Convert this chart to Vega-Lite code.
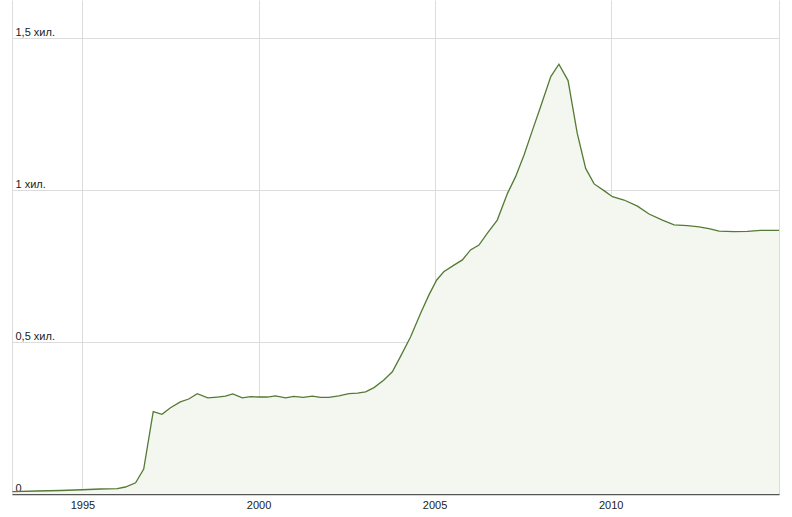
{
  "$schema": "https://vega.github.io/schema/vega-lite/v6.json",
  "width": 767,
  "height": 494,
  "autosize": {"type": "none"},
  "padding": {"left": 12, "top": 0, "right": 13, "bottom": 23},
  "background": "white",
  "config": {
    "view": {"stroke": null},
    "font": "Liberation Sans",
    "axis": {"labelFont": "Liberation Sans", "labelFontSize": 11, "labelColor": "#222222", "gridColor": "#dcdcdc", "gridWidth": 1, "title": null}
  },
  "data": {
    "values": [
      {"year": 1993.01, "value": 0.0076},
      {"year": 1993.72, "value": 0.0099},
      {"year": 1994.38, "value": 0.0115},
      {"year": 1995.0, "value": 0.014},
      {"year": 1995.51, "value": 0.0164},
      {"year": 1995.99, "value": 0.0174},
      {"year": 1996.22, "value": 0.023},
      {"year": 1996.51, "value": 0.037},
      {"year": 1996.74, "value": 0.082},
      {"year": 1997.01, "value": 0.271},
      {"year": 1997.26, "value": 0.262},
      {"year": 1997.5, "value": 0.284},
      {"year": 1997.78, "value": 0.303},
      {"year": 1998.02, "value": 0.3125},
      {"year": 1998.26, "value": 0.33},
      {"year": 1998.56, "value": 0.316},
      {"year": 1998.83, "value": 0.319},
      {"year": 1999.06, "value": 0.322},
      {"year": 1999.27, "value": 0.329},
      {"year": 1999.54, "value": 0.316},
      {"year": 1999.77, "value": 0.32},
      {"year": 2000.01, "value": 0.319},
      {"year": 2000.25, "value": 0.319},
      {"year": 2000.48, "value": 0.323},
      {"year": 2000.77, "value": 0.316},
      {"year": 2001.0, "value": 0.321},
      {"year": 2001.27, "value": 0.318},
      {"year": 2001.53, "value": 0.322},
      {"year": 2001.76, "value": 0.318},
      {"year": 2002.0, "value": 0.318},
      {"year": 2002.28, "value": 0.323},
      {"year": 2002.57, "value": 0.33},
      {"year": 2002.81, "value": 0.332},
      {"year": 2003.04, "value": 0.336},
      {"year": 2003.28, "value": 0.35},
      {"year": 2003.56, "value": 0.375},
      {"year": 2003.8, "value": 0.402},
      {"year": 2004.03, "value": 0.452},
      {"year": 2004.32, "value": 0.517},
      {"year": 2004.6, "value": 0.594},
      {"year": 2004.84, "value": 0.655},
      {"year": 2005.06, "value": 0.704},
      {"year": 2005.26, "value": 0.731},
      {"year": 2005.55, "value": 0.753},
      {"year": 2005.79, "value": 0.77},
      {"year": 2006.02, "value": 0.803},
      {"year": 2006.26, "value": 0.819},
      {"year": 2006.5, "value": 0.858},
      {"year": 2006.78, "value": 0.901},
      {"year": 2007.07, "value": 0.989},
      {"year": 2007.3, "value": 1.044},
      {"year": 2007.54, "value": 1.115},
      {"year": 2007.78, "value": 1.197},
      {"year": 2008.01, "value": 1.274},
      {"year": 2008.3, "value": 1.373},
      {"year": 2008.53, "value": 1.414},
      {"year": 2008.79, "value": 1.36},
      {"year": 2009.05, "value": 1.187},
      {"year": 2009.29, "value": 1.071},
      {"year": 2009.53, "value": 1.02},
      {"year": 2009.81, "value": 0.998},
      {"year": 2010.05, "value": 0.978},
      {"year": 2010.38, "value": 0.967},
      {"year": 2010.76, "value": 0.947},
      {"year": 2011.09, "value": 0.921},
      {"year": 2011.47, "value": 0.901},
      {"year": 2011.8, "value": 0.885},
      {"year": 2012.18, "value": 0.883},
      {"year": 2012.51, "value": 0.879},
      {"year": 2012.79, "value": 0.873},
      {"year": 2013.08, "value": 0.865},
      {"year": 2013.5, "value": 0.863},
      {"year": 2013.88, "value": 0.864},
      {"year": 2014.26, "value": 0.867},
      {"year": 2014.78, "value": 0.867}
    ]
  },
  "encoding": {
    "x": {
      "field": "year",
      "type": "quantitative",
      "scale": {"domain": [1993.0, 2014.78], "nice": false, "zero": false},
      "axis": {
        "values": [1993.0, 1995, 2000, 2005, 2010, 2014.78],
        "labelExpr": "datum.value % 5 == 0 ? format(datum.value, 'd') : ''",
        "labelOverlap": false,
        "labelFlush": false,
        "ticks": false,
        "tickSize": 0,
        "labelPadding": 5,
        "domain": true,
        "domainColor": "#555555",
        "domainWidth": 1.5,
        "grid": true
      }
    },
    "y": {
      "field": "value",
      "type": "quantitative",
      "scale": {"domain": [0, 1.625], "nice": false},
      "axis": {
        "values": [0, 0.5, 1, 1.5],
        "labelExpr": "datum.value == 0 ? '0' : datum.value == 0.5 ? '0,5 хил.' : datum.value == 1 ? '1 хил.' : '1,5 хил.'",
        "labelAlign": "left",
        "labelBaseline": "bottom",
        "labelOffset": -1,
        "labelPadding": -3,
        "ticks": false,
        "tickSize": 0,
        "domain": false,
        "grid": true
      }
    }
  },
  "layer": [
    {"mark": {"type": "area", "fill": "#f4f7ef", "opacity": 1}},
    {"mark": {"type": "line", "stroke": "#557a35", "strokeWidth": 1.3}}
  ]
}
